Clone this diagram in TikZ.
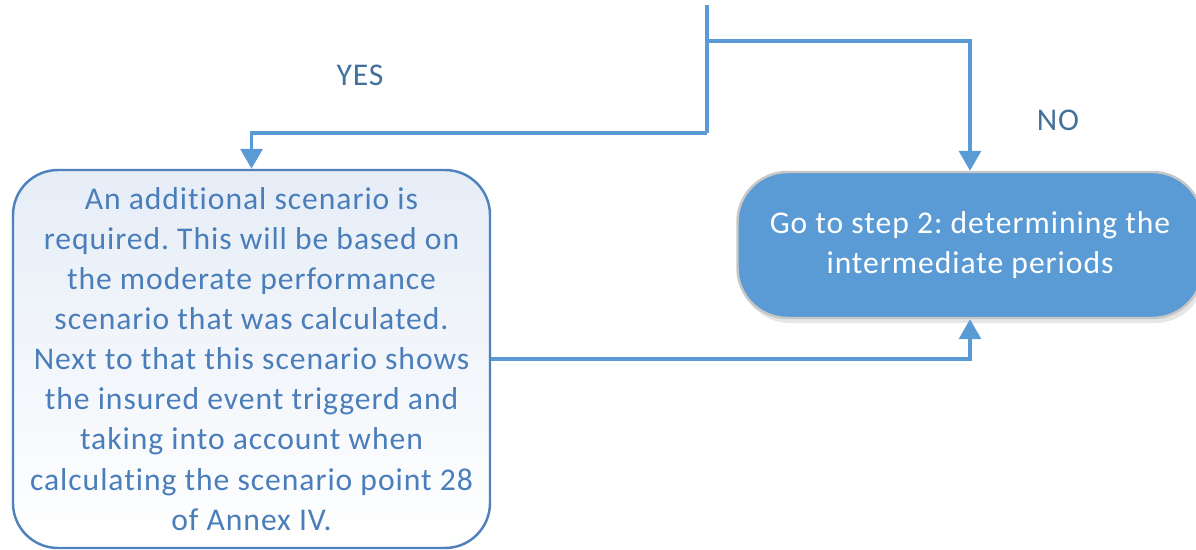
\documentclass[tikz,border=0pt]{standalone}
\usepackage{fontspec}
\setmainfont{Carlito}[Ligatures=NoCommon, LetterSpace=3]
\usepackage{tikz}
\usetikzlibrary{arrows.meta,shadows}
\definecolor{flowblue}{HTML}{5B9BD5}
\definecolor{edgeblue}{HTML}{4F81BD}
\definecolor{textblue}{HTML}{4A7EBB}
\definecolor{labelblue}{HTML}{41719C}
\definecolor{paleblue}{HTML}{E6EDF7}
\frenchspacing

\begin{document}
\begin{tikzpicture}[flow/.style = {draw=flowblue, line width=2pt, -{Triangle[width=4.4mm,length=4mm]}},
        plain/.style = {draw=flowblue, line width=2pt},
        yesbox/.style = {draw=edgeblue, line width=1.4pt, rounded corners=9mm, top color=paleblue, bottom color=white,
                         text=textblue, align=center, minimum width=9.54cm, minimum height=7.56cm, inner sep=0pt},
        nobox/.style = {draw=black!22, line width=1.4pt, rounded corners=10mm, fill=flowblue, text=white,
                        align=center, minimum width=9.3cm, minimum height=2.92cm, inner sep=0pt,
                        drop shadow={opacity=0.2, shadow xshift=0.5mm, shadow yshift=-1mm}},
        answer/.style = {text=labelblue, font=\fontsize{18}{21}\selectfont}]
            \useasboundingbox (0,0) rectangle (23.92,-11);

            \coordinate (in) at (14.14,-0.1);
            \coordinate (fork) at (14.14,-0.82);
            \coordinate (split) at (14.14,-2.66);

            \node[yesbox, font=\fontsize{18}{22.8}\selectfont] (extra) at (5.03,-7.18)
                {An additional scenario is\\ required. This will be based on\\ the moderate performance\\
                 scenario that was calculated.\\ Next to that this scenario shows\\ the insured event triggerd and\\
                 taking into account when\\ calculating the scenario point 28\\ of Annex IV.};
            \node[nobox, font=\fontsize{18}{22.8}\selectfont] (step2) at (19.4,-4.9)
                {Go to step 2: determining the\\ intermediate periods};

            \node[answer] (yes) at (7.2,-1.5) {YES};
            \node[answer] (no) at (21.16,-2.4) {NO};

            \path[plain] (in) -- (split);
            \path[flow] (split) -| (extra);
            \path[flow] (fork) -| (step2);
            \path[flow] (extra) -| (step2);
        \end{tikzpicture}
\end{document}
